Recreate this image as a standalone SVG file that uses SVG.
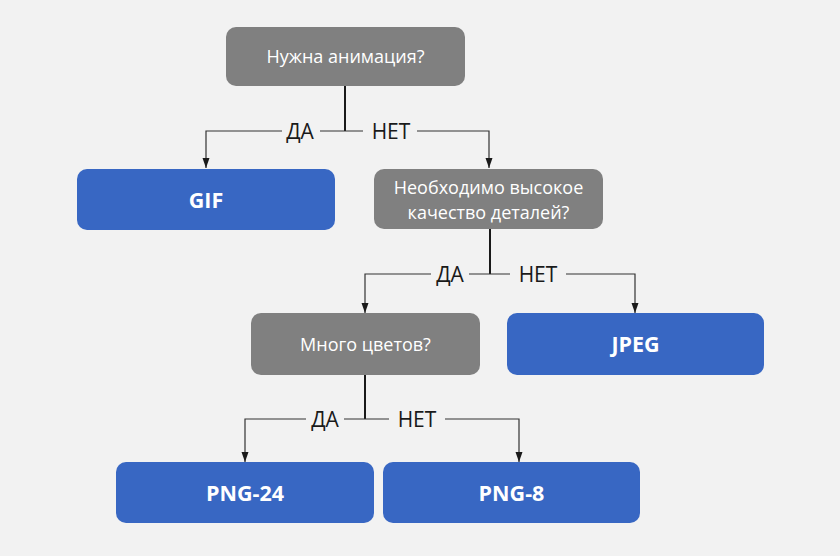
<svg xmlns="http://www.w3.org/2000/svg" width="840" height="556" viewBox="0 0 840 556">
<defs>
<style>
.q{fill:#808080}
.a{fill:#3867c3}
.qt{fill:#ffffff;font-family:"Open Sans","Noto Sans",sans-serif;font-size:18px;text-anchor:middle}
.at{fill:#ffffff;font-family:"Open Sans","Noto Sans",sans-serif;font-size:21.5px;font-weight:bold;text-anchor:middle}
.stem{stroke:#1a1a1a;stroke-width:2;fill:none}
.ln{stroke:#333333;stroke-width:1.2;fill:none}
.lb{fill:#1a1a1a;font-family:"Open Sans","Noto Sans",sans-serif;font-size:21px;text-anchor:middle}
.lbg{fill:#f2f2f2}
</style>
<marker id="arr" viewBox="0 0 10 10" refX="10" refY="5" markerWidth="10" markerHeight="10" markerUnits="userSpaceOnUse" orient="auto">
<path d="M0,1.5 L10,5 L0,8.5 Z" fill="#1a1a1a"/>
</marker>
</defs>
<rect width="840" height="556" fill="#f2f2f2"/>
<g id="connectors">
<path class="stem" d="M345,86 V131"/>
<path class="ln" d="M345,131 H206 V168" marker-end="url(#arr)"/>
<path class="ln" d="M345,131 H489 V168" marker-end="url(#arr)"/>
<path class="stem" d="M490,229 V274"/>
<path class="ln" d="M490,274 H365 V313" marker-end="url(#arr)"/>
<path class="ln" d="M490,274 H635 V313" marker-end="url(#arr)"/>
<path class="stem" d="M365,375 V419"/>
<path class="ln" d="M365,419 H245 V462" marker-end="url(#arr)"/>
<path class="ln" d="M365,419 H519 V462" marker-end="url(#arr)"/>
<rect class="lbg" x="282" y="119" width="38" height="24"/>
<text class="lb" x="300" y="139">ДА</text>
<rect class="lbg" x="363" y="119" width="54" height="24"/>
<text class="lb" x="391" y="139">НЕТ</text>
<rect class="lbg" x="431" y="262" width="38" height="24"/>
<text class="lb" x="450" y="282">ДА</text>
<rect class="lbg" x="510" y="262" width="56" height="24"/>
<text class="lb" x="538" y="282">НЕТ</text>
<rect class="lbg" x="306" y="407" width="38" height="24"/>
<text class="lb" x="325" y="427">ДА</text>
<rect class="lbg" x="389" y="407" width="56" height="24"/>
<text class="lb" x="417" y="427">НЕТ</text>
</g>
<g id="n-anim">
<rect class="q" x="226" y="27" width="239" height="59" rx="10"/>
<text class="qt" x="345.5" y="63">Нужна анимация?</text>
</g>
<g id="n-gif">
<rect class="a" x="77" y="169" width="258" height="61" rx="10"/>
<text class="at" x="206" y="208">GIF</text>
</g>
<g id="n-quality">
<rect class="q" x="374" y="169" width="229" height="60" rx="10"/>
<text class="qt" x="488.5" y="194">Необходимо высокое</text>
<text class="qt" x="488.5" y="219">качество деталей?</text>
</g>
<g id="n-colors">
<rect class="q" x="251" y="313" width="229" height="62" rx="10"/>
<text class="qt" x="365.5" y="351">Много цветов?</text>
</g>
<g id="n-jpeg">
<rect class="a" x="507" y="313" width="257" height="62" rx="10"/>
<text class="at" x="635.5" y="352">JPEG</text>
</g>
<g id="n-png24">
<rect class="a" x="116" y="462" width="258" height="61" rx="10"/>
<text class="at" x="245" y="501">PNG-24</text>
</g>
<g id="n-png8">
<rect class="a" x="383" y="462" width="257" height="61" rx="10"/>
<text class="at" x="511.5" y="501">PNG-8</text>
</g>
</svg>
